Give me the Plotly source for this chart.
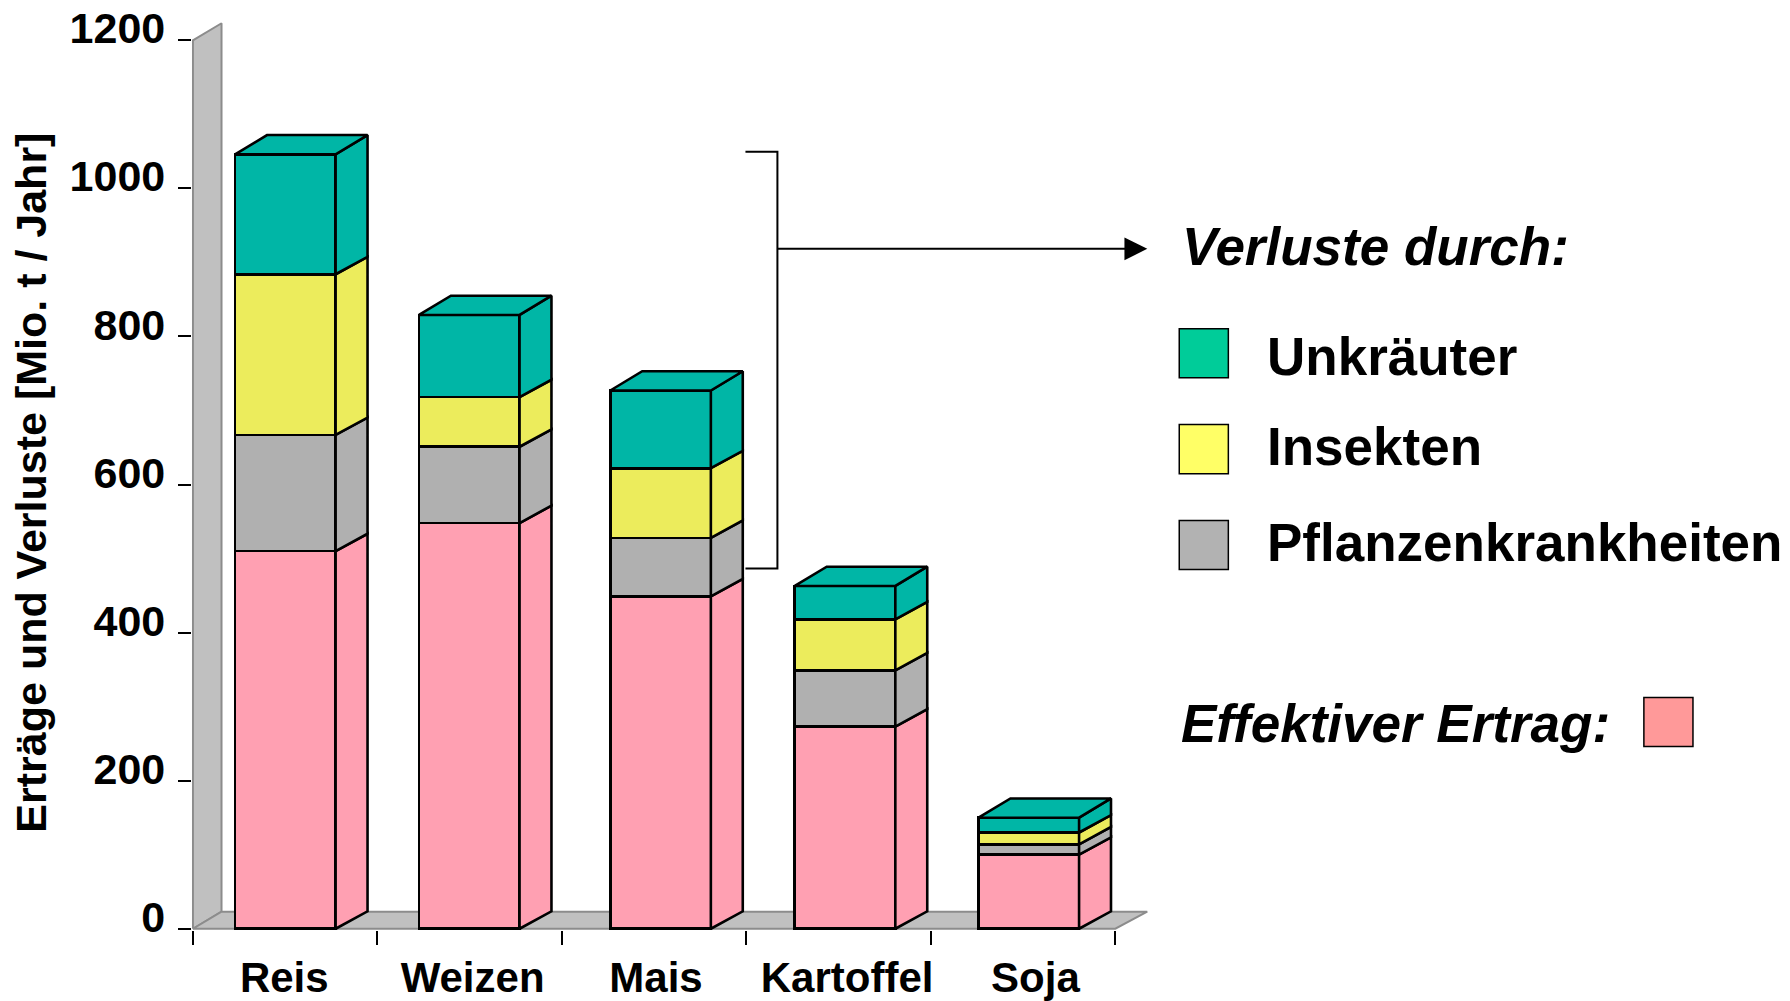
import plotly.graph_objects as go

# ---- data (Mio. t / Jahr) ----
categories = ["Reis", "Weizen", "Mais", "Kartoffel", "Soja"]
ertrag = [510, 548, 449, 273, 100]
krankheiten = [157, 103, 79, 76, 14]
insekten = [217, 67, 94, 69, 16]
unkraeuter = [162, 111, 105, 45, 20]
y_ticks = [0, 200, 400, 600, 800, 1000, 1200]
y_title = "Erträge und Verluste [Mio. t / Jahr]"

# ---- layout constants ----
W, H = 1790, 1001
SX, SY = W / 1568, H / 877
def px(x): return x * SX / W
def py(y): return 1 - y * SY / H

FONT = "Liberation Sans"
X0, X5, Y0, Y1200 = 169, 977, 813.7, 35.3
X_RANGE = [-0.006, 5.2]
Y_RANGE = [-2, 1232]
kx = (X5 - X0) / 5
ky = (Y0 - Y1200) / 1200
x_domain = [px(X0 + X_RANGE[0] * kx), px(X0 + X_RANGE[1] * kx)]
y_domain = [py(Y0 - Y_RANGE[0] * ky), py(Y0 - Y_RANGE[1] * ky)]

bar_pos = [0.501, 1.498, 2.535, 3.535, 4.531]
label_pos = [0.495, 1.516, 2.51, 3.546, 4.567]
bar_w = 0.545
dx_bar, dy_side, dy_top = 0.173, 23.5, 26
dx_wall, dy_wall = 0.155, 23
dx_floor = 0.173
EDGE = 2.6

series = [
    ("Effektiver Ertrag", ertrag, "#FFA0B2"),
    ("Pflanzenkrankheiten", krankheiten, "#B0B0B0"),
    ("Insekten", insekten, "#ECEC5C"),
    ("Unkräuter", unkraeuter, "#00B6A6"),
]

fig = go.Figure()

# wall and floor on the base subplot
fig.add_trace(go.Scatter(x=[0, 0, dx_wall, dx_wall, 0], y=[0, 1200, 1200 + dy_wall, dy_wall, 0],
                         fill="toself", fillcolor="#C0C0C0", mode="lines",
                         line=dict(color="#8C8C8C", width=2), cliponaxis=False,
                         hoverinfo="skip", showlegend=False))
fig.add_trace(go.Scatter(x=[0, 5, 5 + dx_floor, dx_wall, 0], y=[0, 0, dy_wall, dy_wall, 0],
                         fill="toself", fillcolor="#C0C0C0", mode="lines",
                         line=dict(color="#8C8C8C", width=2), cliponaxis=False,
                         hoverinfo="skip", showlegend=False))

# fronts and side faces on the overlay subplot
bottom = [0] * len(categories)
for s, (name, vals, col) in enumerate(series):
    fig.add_trace(go.Bar(x=bar_pos, y=vals, width=bar_w, name=name, xaxis="x2",
                         marker=dict(color=col, line=dict(color="black", width=EDGE)),
                         cliponaxis=False, showlegend=False))
    is_top = s == len(series) - 1
    for i, v in enumerate(vals):
        r = bar_pos[i] + bar_w / 2
        b, t = bottom[i], bottom[i] + v
        up = dy_top if is_top else dy_side
        fig.add_trace(go.Scatter(x=[r, r + dx_bar, r + dx_bar, r, r],
                                 y=[b, b + dy_side, t + up, t, b],
                                 xaxis="x2", fill="toself", fillcolor=col, mode="lines",
                                 line=dict(color="black", width=EDGE), cliponaxis=False,
                                 hoverinfo="skip", showlegend=False))
        bottom[i] = t
top_col = series[-1][2]
for i, t in enumerate(bottom):
    l = bar_pos[i] - bar_w / 2
    r = bar_pos[i] + bar_w / 2
    fig.add_trace(go.Scatter(x=[l, r, r + dx_bar, l + dx_bar, l],
                             y=[t, t, t + dy_top, t + dy_top, t],
                             xaxis="x2", fill="toself", fillcolor=top_col, mode="lines",
                             line=dict(color="black", width=EDGE), cliponaxis=False,
                             hoverinfo="skip", showlegend=False))

# ---- annotation graphics ----
line = dict(color="black", width=2)
shapes = [
    dict(type="path", xref="paper", yref="paper", line=line,
         path=f"M {px(653)} {py(133)} L {px(681)} {py(133)} L {px(681)} {py(498)} L {px(653)} {py(498)}"),
    dict(type="line", xref="paper", yref="paper", x0=px(681), x1=px(986), y0=py(218), y1=py(218), line=line),
    dict(type="path", xref="paper", yref="paper", fillcolor="black", line=dict(color="black", width=0),
         path=f"M {px(985)} {py(208)} L {px(1005)} {py(218)} L {px(985)} {py(228)} Z"),
]
swatches = [(1033, 288, "#00CC99"), (1033, 372, "#FFFF66"), (1033, 456, "#B2B2B2"), (1440, 611, "#FF9999")]
for sx, sy, c in swatches:
    shapes.append(dict(type="rect", xref="paper", yref="paper", x0=px(sx), x1=px(sx + 43),
                       y0=py(sy), y1=py(sy + 43), fillcolor=c, line=dict(color="black", width=1.5)))

def note(text, x, y, size, **kw):
    return dict(text=text, xref="paper", yref="paper", x=px(x), y=py(y), showarrow=False,
                xanchor=kw.get("xanchor", "left"), yanchor="middle", textangle=kw.get("angle", 0),
                font=dict(family=FONT, size=size, color="black"))

annotations = [
    note("<b><i>Verluste durch:</i></b>", 1034, 216, 53),
    note("<b>Unkräuter</b>", 1108, 312, 53),
    note("<b>Insekten</b>", 1108, 391, 53),
    note("<b>Pflanzenkrankheiten</b>", 1108, 475, 53),
    note("<b><i>Effektiver Ertrag:</i></b>", 1033, 634, 53),
    note(f"<b>{y_title}</b>", 27, 423, 43, angle=-90, xanchor="center"),
]

tickfont = dict(family=FONT, size=43, color="black", weight="bold")
catfont = dict(family=FONT, size=42, color="black", weight="bold")
fig.update_layout(
    width=W, height=H, autosize=False, margin=dict(l=0, r=0, t=0, b=0),
    plot_bgcolor="white", paper_bgcolor="white", barmode="stack", showlegend=False,
    shapes=shapes, annotations=annotations,
    xaxis=dict(domain=x_domain, range=X_RANGE, tickmode="array", tickvals=list(range(6)),
               ticktext=[""] * 6, ticks="outside", ticklen=14, tickwidth=2, tickcolor="black",
               showgrid=False, zeroline=False, showline=False, anchor="y", automargin=False),
    xaxis2=dict(domain=x_domain, range=X_RANGE, overlaying="x", anchor="y", side="bottom",
                tickmode="array", tickvals=label_pos, ticktext=categories, ticks="", ticklen=0,
                tickfont=catfont, ticklabelstandoff=19, showgrid=False, zeroline=False,
                showline=False, automargin=False),
    yaxis=dict(domain=y_domain, range=Y_RANGE, tickmode="array", tickvals=y_ticks,
               ticktext=[str(v) for v in y_ticks], ticks="outside", ticklen=13, tickwidth=2,
               tickcolor="black", tickfont=tickfont, ticklabelstandoff=4, ticklabelshift=-12,
               showgrid=False, zeroline=False, showline=False, anchor="x", automargin=False),
)

fig.write_html("out.html", post_script="document.body.style.margin='0';",
               config=dict(displayModeBar=False))
